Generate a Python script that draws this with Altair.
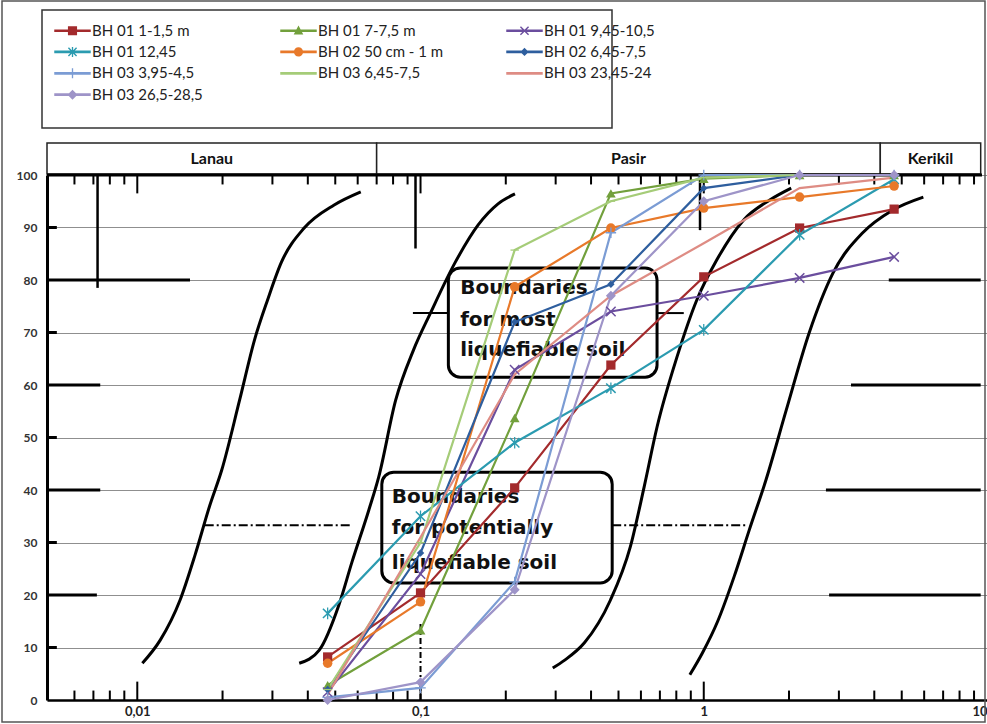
import altair as alt
import pandas as pd

# ---------------- data ----------------
SIZES = [0.047, 0.1, 0.215, 0.47, 1.0, 2.18, 4.7]

NAMES = ["BH 01 1-1,5 m", "BH 01 7-7,5 m", "BH 01 9,45-10,5",
         "BH 01 12,45", "BH 02 50 cm - 1 m", "BH 02 6,45-7,5",
         "BH 03 3,95-4,5", "BH 03 6,45-7,5", "BH 03 23,45-24",
         "BH 03 26,5-28,5"]

BH01_1 = [8.2, 20.4, 40.4, 63.8, 80.6, 89.9, 93.5]
BH01_7 = [2.8, 13.3, 53.7, 96.5, 99.3, 100, 100]
BH01_9 = [1.5, 24, 62.9, 74, 77, 80.4, 84.4]
BH01_12 = [16.5, 35, 49, 59.4, 70.5, 88.6, 99.2]
BH02_05 = [7, 18.7, 78.7, 89.9, 93.7, 95.8, 97.9]
BH02_6 = [2, 28, 72, 79.2, 97.5, 100, 100]
BH03_3 = [0.5, 2.3, 22.5, 89, 100, 100, 100]
BH03_6 = [2, 30, 85.7, 95, 99.5, 100, 100]
BH03_23 = [1, 31, 62, 77, 87, 97.5, 99.5]
BH03_26 = [0, 3.4, 21, 77, 95, 100, 100]
SERIES = [BH01_1, BH01_7, BH01_9, BH01_12, BH02_05, BH02_6,
          BH03_3, BH03_6, BH03_23, BH03_26]

COLORS = ["#A32A2C", "#72A03C", "#6B4E9E", "#2B9BB0", "#E8792A",
          "#2E5E9E", "#7B9CD4", "#A5CC78", "#DE8C84", "#9E94C8"]

# background (scanned chart) boundary curves
CURVE1_X = [0.01042, 0.01205, 0.01415, 0.01599, 0.01804, 0.01987, 0.02297,
            0.02594, 0.02884, 0.03228, 0.03883, 0.04955, 0.06152]
CURVE1_Y = [7.0, 11.4, 19.0, 27.6, 37.1, 43.8, 57.1, 68.6, 76.2, 83.4, 89.9, 94.3, 96.8]
CURVE2_X = [0.0373, 0.0439, 0.0515, 0.0573, 0.0657, 0.0712, 0.0817, 0.0945,
            0.1084, 0.1327, 0.1598, 0.1878, 0.2155]
CURVE2_Y = [7.0, 9.5, 18.1, 26.3, 36.2, 42.5, 57.1, 66.7, 73.7, 83.4, 90.5, 94.5, 96.4]
CURVE3_X = [0.293, 0.323, 0.379, 0.468, 0.550, 0.616, 0.684, 0.804, 0.945,
            1.111, 1.381, 1.705, 2.036]
CURVE3_Y = [6.1, 7.6, 10.9, 19.0, 29.1, 40.6, 52.0, 65.3, 76.2, 83.8, 91.4, 95.2, 97.5]
CURVE4_X = [0.893, 0.99, 1.12, 1.28, 1.45, 1.66, 1.955, 2.355, 2.858, 3.641, 4.64, 5.96]
CURVE4_Y = [4.8, 9.0, 15.0, 23.5, 32.5, 42.0, 55.2, 69.9, 81.3, 89.0, 93.3, 95.8]

# soil classes band
BAND_NAMES = ["Lanau", "Pasir", "Kerikil"]
BAND_START = [0.0048, 0.07, 4.2]
BAND_END = [0.07, 4.2, 9.5]

# annotation boxes
BOX_X0 = [0.1254, 0.073]
BOX_X1 = [0.684, 0.475]
BOX_Y0 = [61.5, 22.3]
BOX_Y1 = [82.3, 43.4]
BOX_TEXT_X = [0.138, 0.0792]
BOX_LINES = [["Boundaries", "for most", "liquefiable soil"],
             ["Boundaries", "for potentially", "liquefiable soil"]]
BOX_LINE_Y = [[78.5, 72.4, 66.7], [38.7, 32.8, 26.1]]

# connector lines of the scan (dash-dot or solid)
CONN_Y = [33.3, 33.3, 73.7, 73.7]
CONN_X0 = [0.0173, 0.475, 0.094, 0.684]
CONN_X1 = [0.0568, 1.415, 0.1254, 0.85]
CONN_DASHED = [True, True, False, False]

# vertical scan lines
VL_X = [0.00724, 0.096, 0.97, 0.1]
VL_Y0 = [78.5, 86, 89.5, 0]
VL_Y1 = [100, 100, 100, 15]
VL_DASHED = [False, False, False, True]

# thick scan marks on the horizontal lines
MARK_Y = [80, 60, 40, 20, 80, 60, 40, 20, 90, 70, 50, 30, 10]
MARK_X0 = [0.0048, 0.0048, 0.0048, 0.0048, 4.5, 3.31, 2.70, 2.77,
           0.0048, 0.0048, 0.0048, 0.0048, 0.0048]
MARK_X1 = [0.01535, 0.0074, 0.0074, 0.0072, 9.5, 9.5, 9.5, 9.5,
           0.0052, 0.0052, 0.0052, 0.0052, 0.0052]

# log minor ticks of the scan
MINOR_TICKS = [0.006, 0.007, 0.008, 0.009, 0.02, 0.03, 0.04, 0.05, 0.06, 0.07,
               0.08, 0.09, 0.2, 0.3, 0.4, 0.5, 0.6, 0.7, 0.8, 0.9,
               2, 3, 4, 5, 6, 7, 8, 9]
MAJOR_TICKS = [0.01, 0.1, 1]

# ---------------- tables ----------------
rows = []
for i, (n, vals) in enumerate(zip(NAMES, SERIES)):
    for s, v in zip(SIZES, vals):
        rows.append({"series": n, "x": s, "y": v, "k": i})
df = pd.DataFrame(rows)

crows = []
for cid, (cx, cy) in enumerate([(CURVE1_X, CURVE1_Y), (CURVE2_X, CURVE2_Y),
                                 (CURVE3_X, CURVE3_Y), (CURVE4_X, CURVE4_Y)]):
    for a, b in zip(cx, cy):
        crows.append({"c": cid, "x": a, "y": b})
curves = pd.DataFrame(crows)

band = pd.DataFrame({"name": BAND_NAMES, "x": BAND_START, "x2": BAND_END})
boxes = pd.DataFrame({"x": BOX_X0, "x2": BOX_X1, "y": BOX_Y0, "y2": BOX_Y1})
trows = []
for bi in range(2):
    for line, yy in zip(BOX_LINES[bi], BOX_LINE_Y[bi]):
        trows.append({"t": line, "x": BOX_TEXT_X[bi], "y": yy})
btext = pd.DataFrame(trows)
conn = pd.DataFrame({"x": CONN_X0, "x2": CONN_X1, "y": CONN_Y, "d": CONN_DASHED})
vlines = pd.DataFrame({"x": VL_X, "y": VL_Y0, "y2": VL_Y1, "d": VL_DASHED})
marks = pd.DataFrame({"x": MARK_X0, "x2": MARK_X1, "y": MARK_Y})
ticks = pd.DataFrame({"x": MINOR_TICKS + MAJOR_TICKS,
                      "major": [False] * len(MINOR_TICKS) + [True] * len(MAJOR_TICKS)})

# ---------------- scales & shared encodings ----------------
XS = alt.Scale(type="log", domain=[0.0048, 10], nice=False)
YS = alt.Scale(domain=[0, 100], nice=False)
CS = alt.Scale(domain=NAMES, range=COLORS)

XAX = alt.Axis(
    values=[0.01, 0.1, 1, 10], labelExpr="replace(toString(datum.value), '.', ',')",
    grid=False, ticks=False, domain=True, domainColor="#000", domainWidth=2.5,
    labelFont="Lato", labelFontSize=13, labelFontWeight="bold", labelColor="#222",
    labelPadding=5,
    labelAlign={"condition": {"test": "datum.value >= 10", "value": "right"}, "value": "center"},
    title=None)
YAX = alt.Axis(
    values=list(range(0, 101, 10)), grid=True, gridColor="#8f8f8f", gridWidth=1,
    ticks=False, domain=True, domainColor="#000", domainWidth=3,
    labelFont="Lato", labelFontSize=12, labelFontWeight="bold", labelColor="#333",
    labelPadding=10, title=None)

x_enc = alt.X("x:Q", scale=XS, axis=XAX)
y_enc = alt.Y("y:Q", scale=YS, axis=YAX)

LEG = alt.Legend(orient="none", legendX=17, legendY=-153, columns=3, direction="horizontal",
                 gridAlign="all", columnPadding=62, rowPadding=4.4, symbolSize=275,
                 symbolStrokeWidth=0, labelOffset=11, labelFont="Lato", labelFontSize=15,
                 labelColor="#222", labelLimit=300, title=None, padding=0)
c_enc = alt.Color("series:N", scale=CS, legend=LEG)

# ---------------- frame & band ----------------
frame = alt.Chart(pd.DataFrame({"a": [0]})).mark_rect(
    fill="white", fillOpacity=0, stroke="#555", strokeWidth=1.5
).encode(x=alt.value(-45), x2=alt.value(938), y=alt.value(-174), y2=alt.value(547))

legend_box = alt.Chart(pd.DataFrame({"a": [0]})).mark_rect(
    fill="white", stroke="#333", strokeWidth=1.5
).encode(x=alt.value(-5), x2=alt.value(565), y=alt.value(-165), y2=alt.value(-47))

band_rect = alt.Chart(band).mark_rect(fill="white", stroke="#222", strokeWidth=1.5).encode(
    x=x_enc, x2="x2:Q", y=alt.value(-32), y2=alt.value(-1))
band_text = alt.Chart(band).transform_calculate(
    xm="sqrt(datum.x*datum.x2)").mark_text(
    font="Lato", fontSize=16, fontWeight="bold", color="#111", baseline="middle"
).encode(x=alt.X("xm:Q", scale=XS, axis=XAX), y=alt.value(-16), text="name:N")

# ---------------- scan decorations ----------------
curve_lines = alt.Chart(curves).mark_line(
    color="#000", strokeWidth=3, interpolate="monotone"
).encode(x=x_enc, y=y_enc, detail="c:N")

thick = alt.Chart(marks).mark_rule(color="#000", strokeWidth=3).encode(
    x=x_enc, x2="x2:Q", y=y_enc)

top_line = alt.Chart(pd.DataFrame({"x": [0.0048], "x2": [9.6], "y": [100]})).mark_rule(
    color="#000", strokeWidth=3).encode(x=x_enc, x2="x2:Q", y=y_enc)

tick_top = alt.Chart(ticks).transform_calculate(
    y="100", y2="datum.major ? 96.5 : 98.2").mark_rule(color="#000", strokeWidth=2).encode(
    x=x_enc, y=y_enc, y2="y2:Q")
tick_bot = alt.Chart(ticks).transform_calculate(
    y="0", y2="datum.major ? 3.5 : 1.8").mark_rule(color="#000", strokeWidth=2).encode(
    x=x_enc, y=y_enc, y2="y2:Q")

conn_dash = alt.Chart(conn).transform_filter("datum.d").mark_rule(
    color="#000", strokeWidth=2, strokeDash=[9, 3, 2, 3]).encode(x=x_enc, x2="x2:Q", y=y_enc)
conn_solid = alt.Chart(conn).transform_filter("!datum.d").mark_rule(
    color="#000", strokeWidth=2).encode(x=x_enc, x2="x2:Q", y=y_enc)
vl_solid = alt.Chart(vlines).transform_filter("!datum.d").mark_rule(
    color="#000", strokeWidth=2.5).encode(x=x_enc, y=y_enc, y2="y2:Q")
vl_dash = alt.Chart(vlines).transform_filter("datum.d").mark_rule(
    color="#000", strokeWidth=2, strokeDash=[6, 3, 2, 3]).encode(x=x_enc, y=y_enc, y2="y2:Q")

box_rect = alt.Chart(boxes).mark_rect(
    fill="white", fillOpacity=0, stroke="#000", strokeWidth=3, cornerRadius=12
).encode(x=x_enc, x2="x2:Q", y=y_enc, y2="y2:Q")
box_text = alt.Chart(btext).mark_text(
    font="DejaVu Sans", fontSize=20, fontWeight="bold", color="#111",
    align="left", baseline="middle"
).encode(x=x_enc, y=y_enc, text="t:N")

# ---------------- series ----------------
lines = alt.Chart(df).mark_line(strokeWidth=2.2).encode(
    x=x_enc, y=y_enc, color=c_enc, detail="series:N")

P_X = "M-1,-0.8L-0.8,-1L0,-0.2L0.8,-1L1,-0.8L0.2,0L1,0.8L0.8,1L0,0.2L-0.8,1L-1,0.8L-0.2,0Z"
P_AST = P_X + "M-0.12,-1.1H0.12V1.1H-0.12Z"
P_PLUS = "M-0.13,-1H0.13V1H-0.13ZM-1,-0.13H1V0.13H-1Z"
P_DASH = "M-1,-0.15H1V0.15H-1Z"

PLOT_SHAPES = ["square", "triangle-up", P_X, P_AST, "circle", "diamond",
               P_PLUS, P_DASH, None, "diamond"]
PLOT_SIZES = [85, 95, 110, 110, 90, 55, 110, 70, 0, 100]

point_layers = []
for n, shp, sz in zip(NAMES, PLOT_SHAPES, PLOT_SIZES):
    if shp is None:
        continue
    point_layers.append(
        alt.Chart(df).transform_filter(alt.datum.series == n).mark_point(
            filled=True, opacity=1, shape=shp, size=sz, strokeWidth=0
        ).encode(x=x_enc, y=y_enc, color=c_enc)
    )

# legend symbols: line + marker
L_LINE = "M-2.2,-0.16H2.2V0.16H-2.2Z"
L_SQ = "M-0.55,-0.55H0.55V0.55H-0.55Z"
L_TRI = "M0,-0.62L0.58,0.46H-0.58Z"
L_X = "M-0.55,-0.43L-0.43,-0.55L0,-0.12L0.43,-0.55L0.55,-0.43L0.12,0L0.55,0.43L0.43,0.55L0,0.12L-0.43,0.55L-0.55,0.43L-0.12,0Z"
L_AST = L_X + "M-0.08,-0.6H0.08V0.6H-0.08Z"
L_CIRC = "M-0.55,0A0.55,0.55,0,1,1,0.55,0A0.55,0.55,0,1,1,-0.55,0Z"
L_DIA = "M0,-0.5L0.5,0L0,0.5L-0.5,0Z"
L_PLUS = "M-0.08,-0.6H0.08V0.6H-0.08Z"
LEGEND_SHAPES = [L_LINE + L_SQ, L_LINE + L_TRI, L_LINE + L_X, L_LINE + L_AST,
                 L_LINE + L_CIRC, L_LINE + L_DIA, L_LINE + L_PLUS, L_LINE,
                 L_LINE, L_LINE + "M0,-0.6L0.6,0L0,0.6L-0.6,0Z"]

legend_layer = alt.Chart(df).transform_filter("datum.y < -1").mark_point(
    filled=True, opacity=1).encode(
    x=x_enc, y=y_enc,
    color=c_enc,
    shape=alt.Shape("series:N", scale=alt.Scale(domain=NAMES, range=LEGEND_SHAPES), legend=LEG),
)

chart = alt.layer(
    frame, legend_box, band_rect, band_text,
    curve_lines, thick, top_line, tick_top, tick_bot, conn_dash, conn_solid,
    vl_solid, vl_dash, box_rect, box_text, lines, *point_layers, legend_layer
).properties(
    width=940, height=525,
    autosize=alt.AutoSizeParams(type="none"),
    padding={"left": 47, "top": 175, "right": 0, "bottom": 24},
    background="white",
).configure_view(stroke=None)

chart.save("out.html", embed_options={"renderer": "svg", "actions": False})
